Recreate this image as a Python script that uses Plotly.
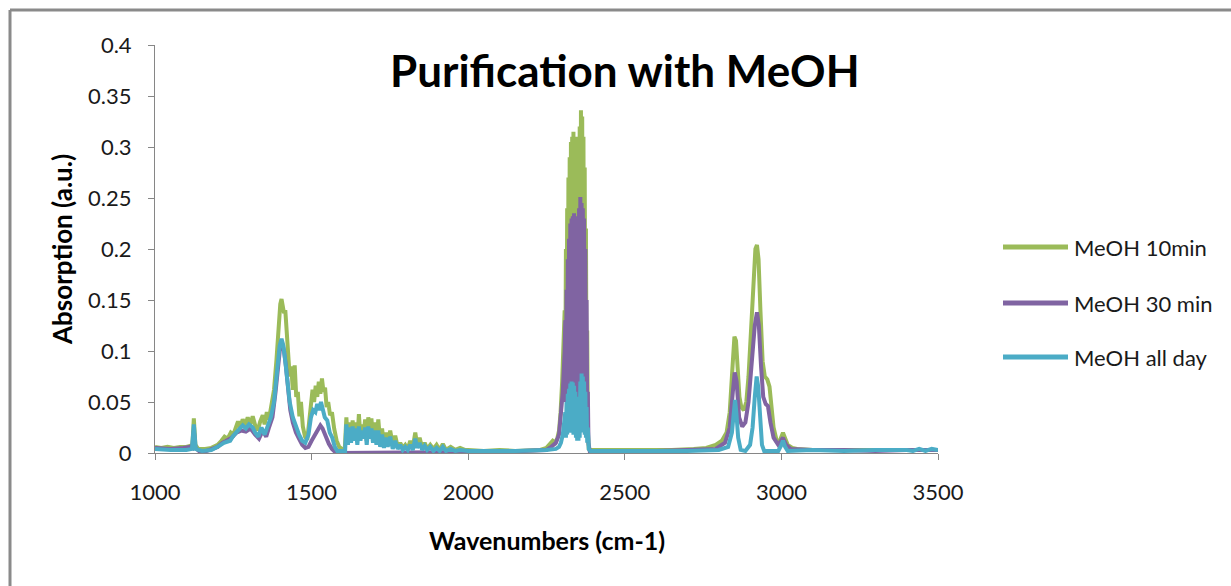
import plotly.graph_objects as go

# ---------------- data (wavenumber cm-1, absorption a.u.) ----------------
series_names = ["MeOH 10min", "MeOH 30 min", "MeOH all day"]
series_colors = ["#9BBB59", "#8064A2", "#4BACC6"]

meoh_10min = [
    (1000, 0.006), (1020, 0.005), (1040, 0.006), (1060, 0.005), (1080, 0.006), (1100, 0.006),
    (1112, 0.007), (1119, 0.006), (1124, 0.034), (1129, 0.008), (1138, 0.004), (1160, 0.004),
    (1180, 0.005), (1200, 0.008), (1212, 0.012), (1222, 0.016), (1232, 0.014), (1242, 0.020),
    (1250, 0.018), (1258, 0.026), (1265, 0.031), (1272, 0.025), (1280, 0.033), (1288, 0.027),
    (1296, 0.035), (1304, 0.028), (1312, 0.036), (1320, 0.027), (1328, 0.022), (1336, 0.031),
    (1344, 0.037), (1350, 0.028), (1357, 0.040), (1364, 0.033), (1372, 0.046), (1380, 0.062),
    (1388, 0.092), (1395, 0.130), (1400, 0.146), (1404, 0.151), (1408, 0.145), (1412, 0.137),
    (1416, 0.140), (1420, 0.120), (1425, 0.098), (1430, 0.075), (1435, 0.085), (1440, 0.062),
    (1446, 0.086), (1451, 0.055), (1456, 0.060), (1461, 0.036), (1466, 0.050), (1472, 0.026),
    (1479, 0.016), (1486, 0.013), (1492, 0.030), (1498, 0.046), (1503, 0.062), (1508, 0.050),
    (1513, 0.066), (1518, 0.055), (1523, 0.070), (1528, 0.058), (1533, 0.073), (1538, 0.060),
    (1543, 0.064), (1548, 0.045), (1553, 0.050), (1559, 0.037), (1565, 0.040), (1572, 0.024),
    (1580, 0.012), (1588, 0.006), (1597, 0.004), (1606, 0.004), (1611, 0.035), (1616, 0.010),
    (1621, 0.030), (1626, 0.012), (1631, 0.032), (1636, 0.015), (1641, 0.030), (1646, 0.012),
    (1651, 0.038), (1656, 0.015), (1661, 0.028), (1666, 0.018), (1671, 0.033), (1676, 0.012),
    (1681, 0.035), (1686, 0.020), (1691, 0.034), (1696, 0.015), (1701, 0.030), (1707, 0.012),
    (1713, 0.033), (1719, 0.010), (1725, 0.024), (1731, 0.008), (1737, 0.020), (1743, 0.010),
    (1751, 0.022), (1759, 0.008), (1767, 0.017), (1775, 0.006), (1783, 0.010), (1791, 0.005),
    (1799, 0.008), (1807, 0.004), (1815, 0.012), (1823, 0.005), (1831, 0.020), (1837, 0.008),
    (1845, 0.015), (1853, 0.005), (1861, 0.010), (1869, 0.004), (1879, 0.008), (1889, 0.004),
    (1899, 0.008), (1909, 0.003), (1919, 0.009), (1929, 0.003), (1944, 0.006), (1959, 0.003),
    (1974, 0.005), (1989, 0.003), (2000, 0.003), (2050, 0.002), (2100, 0.003), (2150, 0.002),
    (2200, 0.003), (2230, 0.003), (2250, 0.005), (2260, 0.008), (2270, 0.012), (2278, 0.010),
    (2285, 0.015), (2290, 0.022), (2295, 0.040), (2300, 0.070), (2305, 0.110),
    (2308, 0.140), (2310, 0.070), (2312, 0.200), (2314, 0.070), (2316, 0.240), (2318, 0.075),
    (2320, 0.270), (2322, 0.075), (2324, 0.290), (2326, 0.080), (2328, 0.305), (2330, 0.080),
    (2332, 0.310), (2334, 0.080), (2336, 0.315), (2338, 0.075), (2340, 0.310), (2342, 0.070),
    (2344, 0.300), (2346, 0.060), (2348, 0.250), (2350, 0.050), (2352, 0.310), (2354, 0.070),
    (2356, 0.320), (2358, 0.080), (2360, 0.336), (2362, 0.085), (2364, 0.330), (2366, 0.080),
    (2368, 0.310), (2370, 0.075), (2372, 0.280), (2374, 0.060), (2376, 0.220), (2378, 0.040),
    (2380, 0.120), (2382, 0.020), (2385, 0.004), (2390, 0.003), (2450, 0.003), (2550, 0.003),
    (2650, 0.003), (2720, 0.004), (2760, 0.005), (2790, 0.008), (2810, 0.012), (2825, 0.020),
    (2835, 0.040), (2843, 0.080), (2850, 0.114), (2855, 0.110), (2860, 0.080), (2866, 0.055),
    (2872, 0.045), (2880, 0.042), (2888, 0.050), (2895, 0.075), (2903, 0.120), (2910, 0.170),
    (2917, 0.200), (2922, 0.204), (2927, 0.190), (2933, 0.140), (2940, 0.090), (2947, 0.075),
    (2955, 0.072), (2962, 0.065), (2968, 0.045), (2975, 0.025), (2985, 0.012), (2995, 0.012),
    (3005, 0.020), (3012, 0.015), (3020, 0.008), (3035, 0.005), (3050, 0.004), (3100, 0.003),
    (3200, 0.003), (3300, 0.003), (3400, 0.003), (3500, 0.003),
]

meoh_30min = [
    (1000, 0.005), (1050, 0.004), (1090, 0.005), (1112, 0.006), (1119, 0.005), (1124, 0.022),
    (1129, 0.005), (1140, 0.002), (1165, 0.002), (1185, 0.004), (1200, 0.006), (1215, 0.010),
    (1230, 0.012), (1245, 0.015), (1260, 0.020), (1275, 0.022), (1290, 0.021), (1305, 0.024),
    (1320, 0.018), (1332, 0.014), (1344, 0.022), (1355, 0.016), (1365, 0.026), (1375, 0.035),
    (1385, 0.060), (1393, 0.090), (1400, 0.105), (1406, 0.108), (1412, 0.100), (1418, 0.085),
    (1425, 0.062), (1432, 0.042), (1440, 0.030), (1450, 0.020), (1460, 0.014), (1470, 0.008),
    (1480, 0.005), (1490, 0.006), (1500, 0.012), (1510, 0.018), (1520, 0.024), (1528, 0.027),
    (1535, 0.024), (1545, 0.016), (1555, 0.009), (1565, 0.004), (1575, 0.001), (1590, 0.000),
    (1700, 0.0005), (1800, 0.0005), (1900, 0.001), (2000, 0.001), (2100, 0.001), (2200, 0.002),
    (2250, 0.003), (2265, 0.006), (2280, 0.010), (2290, 0.018), (2296, 0.035), (2302, 0.060),
    (2308, 0.100), (2310, 0.130), (2312, 0.050), (2314, 0.160), (2316, 0.050), (2318, 0.190),
    (2320, 0.055), (2322, 0.210), (2324, 0.055), (2326, 0.225), (2328, 0.060), (2330, 0.230),
    (2332, 0.060), (2334, 0.232), (2336, 0.060), (2338, 0.235), (2340, 0.055), (2342, 0.232),
    (2344, 0.050), (2346, 0.220), (2348, 0.040), (2350, 0.200), (2352, 0.045), (2354, 0.240),
    (2356, 0.055), (2358, 0.251), (2360, 0.060), (2362, 0.245), (2364, 0.060), (2366, 0.240),
    (2368, 0.055), (2370, 0.230), (2372, 0.050), (2374, 0.200), (2376, 0.040), (2378, 0.150),
    (2380, 0.030), (2382, 0.060), (2384, 0.010), (2388, 0.002), (2400, 0.002), (2500, 0.002),
    (2600, 0.002), (2700, 0.003), (2760, 0.004), (2790, 0.004), (2820, 0.010), (2835, 0.025),
    (2845, 0.060), (2851, 0.079), (2857, 0.070), (2865, 0.035), (2875, 0.026), (2885, 0.030),
    (2895, 0.050), (2905, 0.090), (2915, 0.125), (2922, 0.138), (2928, 0.125), (2935, 0.085),
    (2942, 0.055), (2950, 0.048), (2957, 0.046), (2965, 0.030), (2975, 0.015), (2990, 0.008),
    (3005, 0.015), (3015, 0.008), (3030, 0.004), (3100, 0.003), (3200, 0.003), (3300, 0.002),
    (3400, 0.003), (3500, 0.003),
]

meoh_all_day = [
    (1000, 0.004), (1050, 0.003), (1100, 0.003), (1118, 0.004), (1124, 0.028), (1130, 0.004),
    (1150, 0.002), (1180, 0.003), (1200, 0.006), (1220, 0.010), (1240, 0.012), (1250, 0.017),
    (1265, 0.022), (1280, 0.027), (1290, 0.024), (1300, 0.028), (1312, 0.025), (1320, 0.020),
    (1330, 0.016), (1340, 0.025), (1350, 0.018), (1360, 0.028), (1370, 0.035), (1380, 0.050),
    (1390, 0.080), (1398, 0.105), (1404, 0.112), (1410, 0.105), (1416, 0.090), (1422, 0.070),
    (1430, 0.050), (1440, 0.035), (1450, 0.025), (1460, 0.018), (1470, 0.012), (1480, 0.010),
    (1490, 0.018), (1498, 0.035), (1505, 0.042), (1512, 0.040), (1518, 0.048), (1524, 0.042),
    (1530, 0.050), (1536, 0.042), (1542, 0.035), (1550, 0.032), (1558, 0.020), (1566, 0.015),
    (1574, 0.006), (1582, 0.002), (1600, 0.002), (1607, 0.002), (1611, 0.028), (1616, 0.008),
    (1621, 0.025), (1626, 0.010), (1631, 0.026), (1636, 0.012), (1641, 0.024), (1646, 0.008),
    (1651, 0.026), (1656, 0.012), (1661, 0.022), (1666, 0.014), (1671, 0.025), (1676, 0.008),
    (1681, 0.026), (1686, 0.014), (1691, 0.024), (1696, 0.010), (1701, 0.022), (1707, 0.008),
    (1713, 0.022), (1719, 0.006), (1725, 0.018), (1731, 0.005), (1737, 0.015), (1743, 0.006),
    (1751, 0.016), (1759, 0.004), (1767, 0.012), (1775, 0.004), (1783, 0.008), (1791, 0.003),
    (1799, 0.006), (1807, 0.003), (1815, 0.008), (1823, 0.003), (1831, 0.014), (1837, 0.005),
    (1845, 0.010), (1853, 0.003), (1861, 0.007), (1869, 0.003), (1879, 0.006), (1889, 0.002),
    (1899, 0.005), (1909, 0.002), (1919, 0.006), (1929, 0.002), (1944, 0.004), (1959, 0.002),
    (1974, 0.003), (2000, 0.002), (2050, 0.002), (2150, 0.002), (2250, 0.003), (2280, 0.004),
    (2290, 0.006), (2296, 0.010), (2302, 0.018), (2306, 0.030), (2310, 0.040), (2312, 0.015),
    (2314, 0.050), (2316, 0.018), (2318, 0.058), (2320, 0.020), (2322, 0.063), (2324, 0.020),
    (2326, 0.068), (2328, 0.020), (2330, 0.070), (2332, 0.020), (2334, 0.069), (2336, 0.018),
    (2338, 0.066), (2340, 0.018), (2342, 0.060), (2344, 0.015), (2346, 0.050), (2348, 0.012),
    (2350, 0.030), (2352, 0.012), (2354, 0.055), (2356, 0.015), (2358, 0.070), (2360, 0.020),
    (2362, 0.078), (2364, 0.020), (2366, 0.075), (2368, 0.020), (2370, 0.070), (2372, 0.018),
    (2374, 0.060), (2376, 0.015), (2378, 0.045), (2380, 0.010), (2382, 0.025), (2385, 0.004),
    (2390, 0.002), (2500, 0.002), (2600, 0.002), (2700, 0.002), (2800, 0.003), (2830, 0.006),
    (2842, 0.020), (2848, 0.045), (2852, 0.052), (2856, 0.040), (2862, 0.015), (2870, 0.003),
    (2885, 0.002), (2900, 0.008), (2908, 0.025), (2915, 0.055), (2921, 0.075), (2926, 0.065),
    (2932, 0.030), (2938, 0.008), (2945, 0.002), (2990, 0.002), (3000, 0.008), (3005, 0.012),
    (3012, 0.006), (3020, 0.002), (3100, 0.003), (3200, 0.002), (3300, 0.003), (3400, 0.003),
    (3420, 0.002), (3440, 0.004), (3460, 0.002), (3480, 0.004), (3500, 0.003),
]

all_series = [meoh_10min, meoh_30min, meoh_all_day]

x_ticks = [1000, 1500, 2000, 2500, 3000, 3500]
y_ticks = [0, 0.05, 0.1, 0.15, 0.2, 0.25, 0.3, 0.35, 0.4]

FONT = "Lato"

fig = go.Figure()
for name, color, pts in zip(series_names, series_colors, all_series):
    xs = [p[0] for p in pts]
    ys = [p[1] for p in pts]
    fig.add_trace(go.Scatter(x=xs, y=ys, mode="lines", name=name,
                             line=dict(color=color, width=4), showlegend=False))

# plot area: x 155..938, y 45..453 px  -> convert px to paper
L, R, T, B = 155, 938, 45, 453
W, H = R - L, B - T
def px(x): return (x - L) / W
def py(y): return (B - y) / H

shapes = [
    dict(type="line", xref="paper", yref="paper", x0=px(10), x1=px(1240), y0=py(10), y1=py(10),
         line=dict(color="#8a8a8a", width=3)),
    dict(type="line", xref="paper", yref="paper", x0=px(10), x1=px(10), y0=py(10), y1=py(600),
         line=dict(color="#8a8a8a", width=3)),
]
annotations = []
leg_y = [247, 303, 357]
for name, color, yy in zip(series_names, series_colors, leg_y):
    shapes.append(dict(type="line", xref="paper", yref="paper", x0=px(1003), x1=px(1068),
                       y0=py(yy), y1=py(yy), line=dict(color=color, width=5)))
    annotations.append(dict(text=name, xref="paper", yref="paper", x=px(1072), y=py(yy),
                            xanchor="left", yanchor="middle", showarrow=False,
                            font=dict(family=FONT, size=22, color="#1a1a1a")))

annotations.append(dict(text="<b>Purification with MeOH</b>", xref="paper", yref="paper",
                        x=px(625), y=py(70), xanchor="center", yanchor="middle", showarrow=False,
                        font=dict(family=FONT, size=44, color="#000000")))
annotations.append(dict(text="<b>Absorption (a.u.)</b>", xref="paper", yref="paper",
                        x=px(62), y=py(250), xanchor="center", yanchor="middle", showarrow=False,
                        textangle=-90, font=dict(family=FONT, size=26, color="#000000")))
annotations.append(dict(text="<b>Wavenumbers (cm-1)</b>", xref="paper", yref="paper",
                        x=px(547), y=py(540), xanchor="center", yanchor="middle", showarrow=False,
                        font=dict(family=FONT, size=25, color="#000000")))

fig.update_layout(
    width=1231, height=586,
    margin=dict(l=L, r=1231 - R, t=T, b=586 - B),
    paper_bgcolor="white", plot_bgcolor="white",
    shapes=shapes, annotations=annotations,
    font=dict(family=FONT, color="#1a1a1a"),
    xaxis=dict(range=[1000, 3500], tickvals=x_ticks, ticktext=[str(v) for v in x_ticks],
               showgrid=False, zeroline=False, showline=True, linecolor="#868686", linewidth=1,
               ticks="outside", ticklen=6, tickcolor="#868686",
               tickfont=dict(family=FONT, size=22, color="#1a1a1a"), ticklabelstandoff=14),
    yaxis=dict(range=[0, 0.4], tickvals=y_ticks, ticktext=[f"{v:g}" for v in y_ticks],
               showgrid=False, zeroline=False, showline=True, linecolor="#868686", linewidth=1,
               ticks="outside", ticklen=6, tickcolor="#868686",
               tickfont=dict(family=FONT, size=22, color="#1a1a1a"), ticklabelstandoff=12),
)

fig.write_html("out.html")
